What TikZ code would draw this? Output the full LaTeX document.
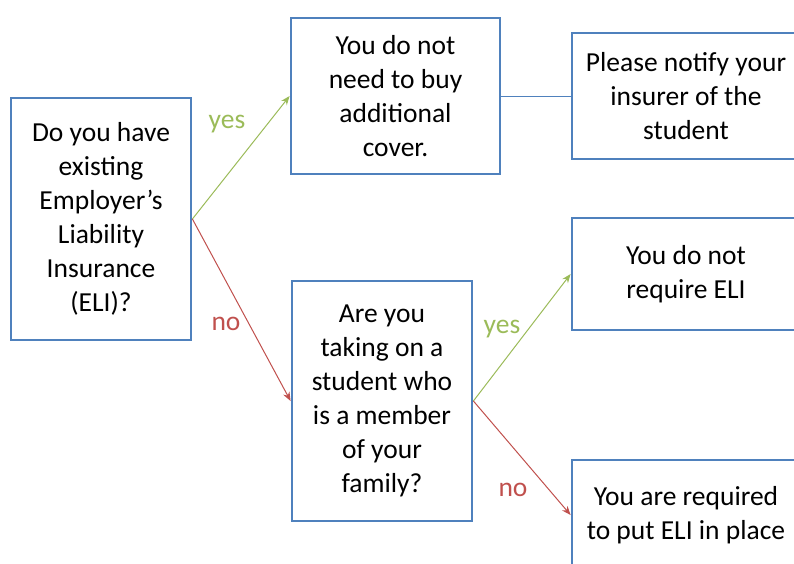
\documentclass[tikz,border=0pt]{standalone}
\usepackage{fontspec}
\setmainfont{Carlito}
\usetikzlibrary{arrows.meta}
\definecolor{boxblue}{RGB}{79,129,189}
\definecolor{yesgreen}{RGB}{155,187,89}
\definecolor{nored}{RGB}{192,80,77}
\tikzset{
  box/.style={draw=boxblue, line width=2.8pt, fill=white, align=center,
    font=\fontsize{27.5}{34}\selectfont},
  yes line/.style={draw=yesgreen, line width=1pt, -{Stealth[length=9pt,width=7pt]}},
  no line/.style={draw=nored, line width=1pt, -{Stealth[length=9pt,width=7pt]}},
  answer/.style={font=\fontsize{27.5}{34}\selectfont}
}

\begin{document}
\begin{tikzpicture}[x=1pt, y=-1pt]
  \clip (0,0) rectangle (794,563);

  % Questions and outcomes
  \node[box, minimum width=180pt, minimum height=242pt] (have) at (101,219)
    {Do you have\\existing\\Employer’s\\Liability\\Insurance\\(ELI)?};
  \node[box, minimum width=209pt, minimum height=156pt] (nobuy) at (395.5,96)
    {You do not\\need to buy\\additional\\cover.};
  \node[box, minimum width=228pt, minimum height=126pt] (notify) at (686,96)
    {Please notify your\\insurer of the\\student};
  \node[box, minimum width=180pt, minimum height=240pt] (family) at (382,401)
    {Are you\\taking on a\\student who\\is a member\\of your\\family?};
  \node[box, minimum width=228pt, minimum height=112pt] (noreq) at (686,274)
    {You do not\\require ELI};
  \node[box, minimum width=228pt, minimum height=110pt] (putin) at (686,515)
    {You are required\\to put ELI in place};

  % Connectors
  \draw[yes line] (have.east) -- (nobuy.west);
  \draw[no line] (have.east) -- (family.west);
  \draw[boxblue, line width=1pt] (nobuy.east) -- (notify.west);
  \draw[yes line] (family.east) -- (noreq.west);
  \draw[no line] (family.east) -- (putin.west);

  % Answers
  \node[answer, text=yesgreen] (yes1) at (227,124) {yes};
  \node[answer, text=nored] (no1) at (226,324) {no};
  \node[answer, text=yesgreen] (yes2) at (502,329) {yes};
  \node[answer, text=nored] (no2) at (513,490) {no};
\end{tikzpicture}
\end{document}
